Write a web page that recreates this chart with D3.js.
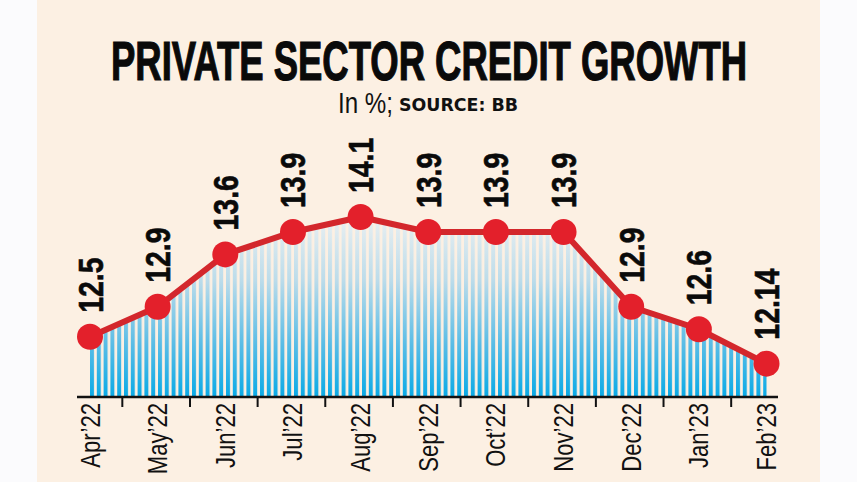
<!DOCTYPE html>
<html>
<head>
<meta charset="utf-8">
<script src="https://cdn.jsdelivr.net/npm/d3@7"></script>
<style>
  html, body { margin: 0; padding: 0; background: #fbfbfd; }
  svg { display: block; }
</style>
</head>
<body>
<svg id="chart" width="857" height="482"></svg>
<script>
const months = ["Apr\u201922","May\u201922","Jun\u201922","Jul\u201922","Aug\u201922","Sep\u201922","Oct\u201922","Nov\u201922","Dec\u201922","Jan\u201923","Feb\u201923"];
const growth = [12.5, 12.9, 13.6, 13.9, 14.1, 13.9, 13.9, 13.9, 12.9, 12.6, 12.14];
const valueLabels = ["12.5","12.9","13.6","13.9","14.1","13.9","13.9","13.9","12.9","12.6","12.14"];
const titleText = "PRIVATE SECTOR CREDIT GROWTH";
const unitText = "In %;";
const sourceText = "SOURCE: BB";

const svg = d3.select("#chart");
const cream = "#fcf0e3";

svg.append("rect").attr("x", 0).attr("y", 0).attr("width", 857).attr("height", 482).attr("fill", "#fbfbfd");
svg.append("rect").attr("x", 37).attr("y", 0).attr("width", 783).attr("height", 482).attr("fill", cream);

// Title
svg.append("text")
  .attr("x", 429).attr("y", 80)
  .attr("text-anchor", "middle")
  .attr("font-family", "'Liberation Sans Narrow', 'Arial Narrow', sans-serif")
  .attr("font-weight", "bold")
  .attr("font-size", 55)
  .attr("textLength", 636)
  .attr("lengthAdjust", "spacingAndGlyphs")
  .attr("fill", "#0a0a0a")
  .attr("stroke", "#0a0a0a")
  .attr("stroke-width", 1.2)
  .text(titleText);

// Subtitle
svg.append("text")
  .attr("x", 338).attr("y", 113)
  .attr("font-family", "'Liberation Sans Narrow', sans-serif")
  .attr("font-size", 30)
  .attr("textLength", 55)
  .attr("lengthAdjust", "spacingAndGlyphs")
  .attr("fill", "#111")
  .text(unitText);
svg.append("text")
  .attr("x", 399).attr("y", 111)
  .attr("font-family", "'DejaVu Sans', sans-serif")
  .attr("font-weight", "bold")
  .attr("font-size", 17)
  .attr("textLength", 119)
  .attr("lengthAdjust", "spacingAndGlyphs")
  .attr("fill", "#111")
  .text(sourceText);

// Scales
const x = d3.scalePoint().domain(months).range([90, 766.5]);
const y = d3.scaleLinear().domain([11.694, 14.1]).range([397, 217]);
const step = x.step();

const defs = svg.append("defs");
const grad = defs.append("linearGradient")
  .attr("id", "blueGrad")
  .attr("gradientUnits", "userSpaceOnUse")
  .attr("x1", 0).attr("x2", 0).attr("y1", 217).attr("y2", 397);
grad.append("stop").attr("offset", 0).attr("stop-color", "#e9eff1");
grad.append("stop").attr("offset", 0.35).attr("stop-color", "#bcdcea");
grad.append("stop").attr("offset", 0.7).attr("stop-color", "#5cbde6");
grad.append("stop").attr("offset", 1).attr("stop-color", "#0aaae6");

const pat = defs.append("pattern")
  .attr("id", "gaps")
  .attr("patternUnits", "userSpaceOnUse")
  .attr("x", 90).attr("y", 0)
  .attr("width", 6.8).attr("height", 10);
pat.append("rect").attr("x", 4).attr("y", 0).attr("width", 2.8).attr("height", 10).attr("fill", cream);

const data = months.map((m, i) => ({ m, v: growth[i], label: valueLabels[i] }));

const area = d3.area()
  .x(d => x(d.m))
  .y0(y(11.694))
  .y1(d => y(d.v));

svg.append("path").datum(data).attr("d", area).attr("fill", "url(#blueGrad)");
svg.append("path").datum(data).attr("d", area).attr("fill", "url(#gaps)");

// Axis
const axisG = svg.append("g").attr("transform", `translate(0,${y(11.694)})`);
axisG.append("line")
  .attr("x1", 77).attr("x2", 778).attr("y1", 0).attr("y2", 0)
  .attr("stroke", "#111").attr("stroke-width", 2.5);
axisG.selectAll("line.tick")
  .data(months.slice(0, -1))
  .join("line")
  .attr("class", "tick")
  .attr("x1", d => x(d) + step / 2 - 1.5)
  .attr("x2", d => x(d) + step / 2 - 1.5)
  .attr("y1", 0).attr("y2", 10)
  .attr("stroke", "#111").attr("stroke-width", 2);

axisG.selectAll("text.month")
  .data(months)
  .join("text")
  .attr("class", "month")
  .attr("transform", d => `translate(${x(d) + 9.5},6) rotate(-90) scale(0.92,1.15)`)
  .attr("text-anchor", "end")
  .attr("font-family", "'Liberation Sans Narrow', sans-serif")
  .attr("font-size", 24)
  .attr("fill", "#111")
  .text(d => d);

// Line
const line = d3.line().x(d => x(d.m)).y(d => y(d.v));
svg.append("path").datum(data)
  .attr("d", line)
  .attr("fill", "none")
  .attr("stroke", "#d3272c")
  .attr("stroke-width", 6)
  .attr("stroke-linejoin", "round");

svg.selectAll("circle.pt")
  .data(data)
  .join("circle")
  .attr("class", "pt")
  .attr("cx", d => x(d.m))
  .attr("cy", d => y(d.v))
  .attr("r", 13)
  .attr("fill", "#e3202b");

svg.selectAll("text.val")
  .data(data)
  .join("text")
  .attr("class", "val")
  .attr("transform", d => `translate(${x(d.m) + 12.5},${y(d.v) - 24}) rotate(-90) scale(0.86,1.05)`)
  .attr("text-anchor", "start")
  .attr("font-family", "'Liberation Sans Narrow', sans-serif")
  .attr("font-weight", "bold")
  .attr("font-size", 33)
  .attr("fill", "#0a0a0a")
  .attr("stroke", "#0a0a0a")
  .attr("stroke-width", 0.6)
  .text(d => d.label);
</script>
</body>
</html>
